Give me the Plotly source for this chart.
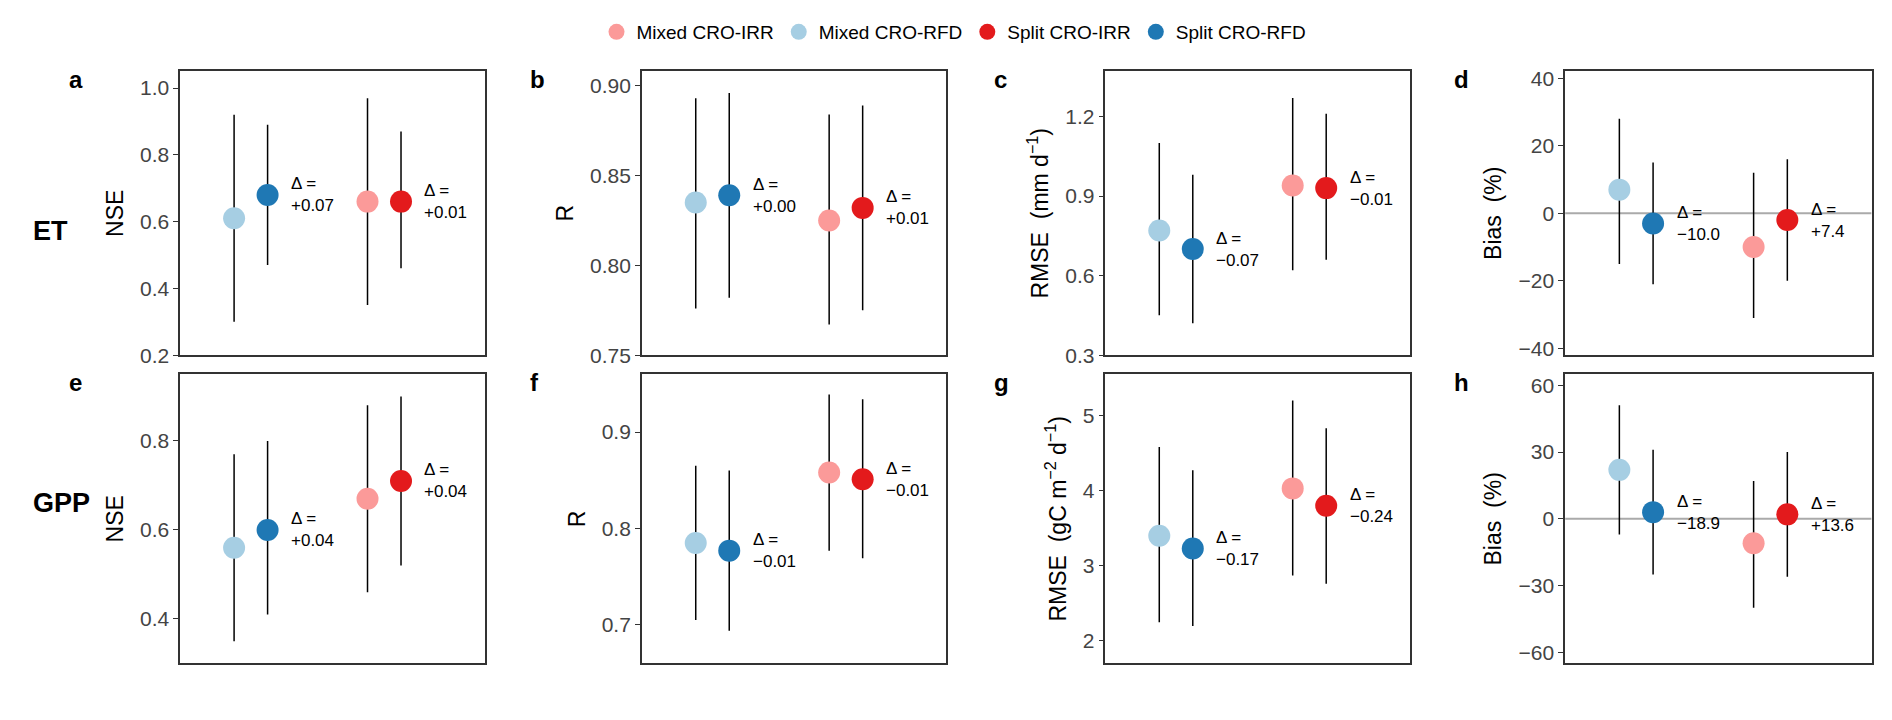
import plotly.graph_objects as go

groups = ["Mixed CRO-RFD", "Split CRO-RFD", "Mixed CRO-IRR", "Split CRO-IRR"]
colors = ["#a6cee3", "#1f78b4", "#fb9a99", "#e31a1c"]
xpos = [0.177, 0.287, 0.615, 0.725]
legend_order = [2, 0, 3, 1]

panels = ["a", "b", "c", "d", "e", "f", "g", "h"]
mean = [
    [0.61, 0.68, 0.66, 0.66],
    [0.835, 0.839, 0.825, 0.832],
    [0.77, 0.70, 0.94, 0.93],
    [7, -3, -10, -2],
    [0.56, 0.60, 0.67, 0.71],
    [0.785, 0.777, 0.858, 0.851],
    [3.40, 3.23, 4.03, 3.80],
    [22, 3, -11, 2],
]
low = [
    [0.30, 0.47, 0.35, 0.46],
    [0.776, 0.782, 0.767, 0.775],
    [0.45, 0.42, 0.62, 0.66],
    [-15, -21, -31, -20],
    [0.35, 0.41, 0.46, 0.52],
    [0.705, 0.694, 0.777, 0.769],
    [2.25, 2.20, 2.87, 2.76],
    [-7, -25, -40, -26],
]
high = [
    [0.92, 0.89, 0.97, 0.87],
    [0.893, 0.896, 0.884, 0.889],
    [1.10, 0.98, 1.27, 1.21],
    [28, 15, 12, 16],
    [0.77, 0.80, 0.88, 0.90],
    [0.865, 0.860, 0.939, 0.934],
    [4.58, 4.27, 5.20, 4.83],
    [51, 31, 17, 30],
]
deltas = [
    ["+0.07", "+0.01"], ["+0.00", "+0.01"], ["\u22120.07", "\u22120.01"], ["\u221210.0", "+7.4"],
    ["+0.04", "+0.04"], ["\u22120.01", "\u22120.01"], ["\u22120.17", "\u22120.24"], ["\u221218.9", "+13.6"],
]
ytitles = ["NSE", "R", "RMSE  (mm d<sup>\u22121</sup>)", "Bias  (%)",
           "NSE", "R", "RMSE  (gC m<sup>\u22122</sup> d<sup>\u22121</sup>)", "Bias  (%)"]
yranges = [[0.2, 1.05], [0.75, 0.908], [0.3, 1.37], [-42, 42],
           [0.3, 0.95], [0.66, 0.96], [1.7, 5.55], [-65, 65]]
ydtick = [0.2, 0.05, 0.3, 20, 0.2, 0.1, 1, 30]
yformat = [".1f", ".2f", ".1f", "d", ".1f", ".1f", "d", "d"]

xdom = [[0.091, 0.252], [0.335, 0.496], [0.580, 0.741], [0.823, 0.985]]
ydom = [[0.514, 0.917], [0.076, 0.487]]

fig = go.Figure()
for i in range(8):
    r, c = divmod(i, 4)
    ax = "" if i == 0 else str(i + 1)
    xa, ya = "x" + ax, "y" + ax
    fig.update_layout(**{
        "xaxis" + ax: dict(domain=xdom[c], range=[0, 1], anchor=ya, showticklabels=False,
                           showgrid=False, zeroline=False, mirror=True, showline=True,
                           linecolor="#333", linewidth=1.5, ticks=""),
        "yaxis" + ax: dict(domain=ydom[r], range=yranges[i], anchor=xa, dtick=ydtick[i],
                           tickformat=yformat[i],
                           showgrid=False, zeroline=False, mirror=True, showline=True,
                           linecolor="#333", linewidth=1.5, ticks="outside", ticklen=5,
                           tickcolor="#333", tickfont=dict(size=21, color="#444"),
                           title=dict(text=ytitles[i], font=dict(size=23, color="black"),
                                      standoff=10)),
    })
    if i in (3, 7):
        fig.add_shape(type="line", xref=xa, yref=ya, x0=0, x1=1, y0=0, y1=0,
                      line=dict(color="#aaaaaa", width=2), layer="below")
    for g in range(4):
        fig.add_trace(go.Scatter(
            x=[xpos[g], xpos[g]], y=[low[i][g], high[i][g]], mode="lines",
            line=dict(color="black", width=1.5), xaxis=xa, yaxis=ya, showlegend=False))
    for g in range(4):
        fig.add_trace(go.Scatter(
            x=[xpos[g]], y=[mean[i][g]], mode="markers",
            marker=dict(color=colors[g], size=22), xaxis=xa, yaxis=ya, showlegend=False))
    for k, g in enumerate([1, 3]):
        fig.add_annotation(x=xpos[g] + 0.07, y=mean[i][g], xref=xa, yref=ya,
                           text="\u0394 =<br>" + deltas[i][k], showarrow=False,
                           xanchor="left", align="left", font=dict(size=17, color="black"))
    fig.add_annotation(x=xdom[c][0] - 0.06, y=ydom[r][1] + 0.01, xref="paper", yref="paper",
                       text="<b>" + panels[i] + "</b>", showarrow=False,
                       font=dict(size=24, color="black"), xanchor="left", yanchor="top")

for name, y in [("ET", 0.715), ("GPP", 0.28)]:
    fig.add_annotation(x=0.012, y=y, xref="paper", yref="paper", text="<b>" + name + "</b>",
                       showarrow=False, font=dict(size=27, color="black"))

for g in legend_order:
    fig.add_trace(go.Scatter(x=[None], y=[None], mode="markers", name=groups[g],
                             marker=dict(color=colors[g], size=22)))

fig.update_layout(
    width=1892, height=720, plot_bgcolor="white", paper_bgcolor="white",
    font=dict(family="Liberation Sans, Arial", color="black"),
    margin=dict(l=0, r=0, t=0, b=0),
    legend=dict(orientation="h", x=0.5, xanchor="center", y=1.0, yanchor="top",
                font=dict(size=19), itemsizing="trace"),
)
fig.write_html("out.html")
